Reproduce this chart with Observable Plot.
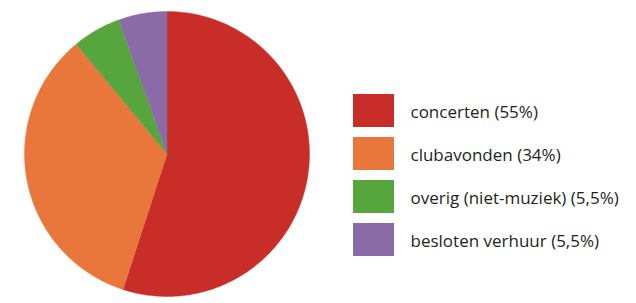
<!DOCTYPE html>
<html>
<head>
<meta charset="utf-8">
<script src="https://cdn.jsdelivr.net/npm/d3@7"></script>
<script src="https://cdn.jsdelivr.net/npm/@observablehq/plot@0.6"></script>
<style>
  html, body { margin: 0; padding: 0; background: #fff; }
  #chart { display: flex; width: 636px; height: 303px; }
</style>
</head>
<body>
<div id="chart"></div>
<script>
// ---- data ----
const categories = ["concerten", "clubavonden", "overig (niet-muziek)", "besloten verhuur"];
const values = [55, 34, 5.5, 5.5];
const colors = ["#c92d27", "#e9773b", "#56a63d", "#8b6ba7"];

const rows = categories.map((c, i) => ({cat: c, value: values[i],
  label: `${c} (${String(values[i]).replace(".", ",")}%)`}));

// ---- pie geometry from d3.pie ----
const arcs = d3.pie().sort(null).value(d => d.value)(rows);
const pts = [];
for (const a of arcs) {
  const n = Math.max(8, Math.ceil((a.endAngle - a.startAngle) * 60));
  pts.push({x: 0, y: 0, cat: a.data.cat});
  for (let i = 0; i <= n; i++) {
    const t = a.startAngle + (a.endAngle - a.startAngle) * i / n;
    pts.push({x: Math.sin(t), y: Math.cos(t), cat: a.data.cat});
  }
  pts.push({x: 0, y: 0, cat: a.data.cat});
}

const colorScale = {domain: categories, range: colors};

// layout: pie plot width 333, center at (166.5, 153.5), radius 142.5
const pieW = 333, H = 303, R = 142.5, cx = 166.5, cy = 153.5;
const pie = Plot.plot({
  width: pieW, height: H,
  margin: 0,
  x: {domain: [-cx / R, (pieW - cx) / R], axis: null},
  y: {domain: [-(H - cy) / R, cy / R], axis: null},
  color: colorScale,
  marks: [
    Plot.line(pts, {x: "x", y: "y", z: "cat", fill: "cat", stroke: "cat", strokeWidth: 0.4, curve: "linear"})
  ]
});

const legW = 636 - pieW;
const legend = Plot.plot({
  width: legW, height: H,
  margin: 0,
  style: {fontFamily: "'Open Sans', sans-serif", fontSize: "17px", color: "#231f20", background: "transparent"},
  x: {domain: [0, 1], range: [20, 61], axis: null},
  y: {type: "band", domain: rows.map(d => d.label), range: [93, 255.9], paddingInner: 0.238, paddingOuter: 0, axis: null},
  color: {domain: rows.map(d => d.label), range: colors},
  marks: [
    Plot.barX(rows, {x1: () => 0, x2: () => 1, y: "label", fill: "label"}),
    Plot.text(rows, {x: () => 1, y: "label", text: "label", textAnchor: "start", dx: 16, dy: 2, fill: "#231f20", fontSize: 17})
  ]
});

const el = document.getElementById("chart");
el.append(pie, legend);
</script>
</body>
</html>
